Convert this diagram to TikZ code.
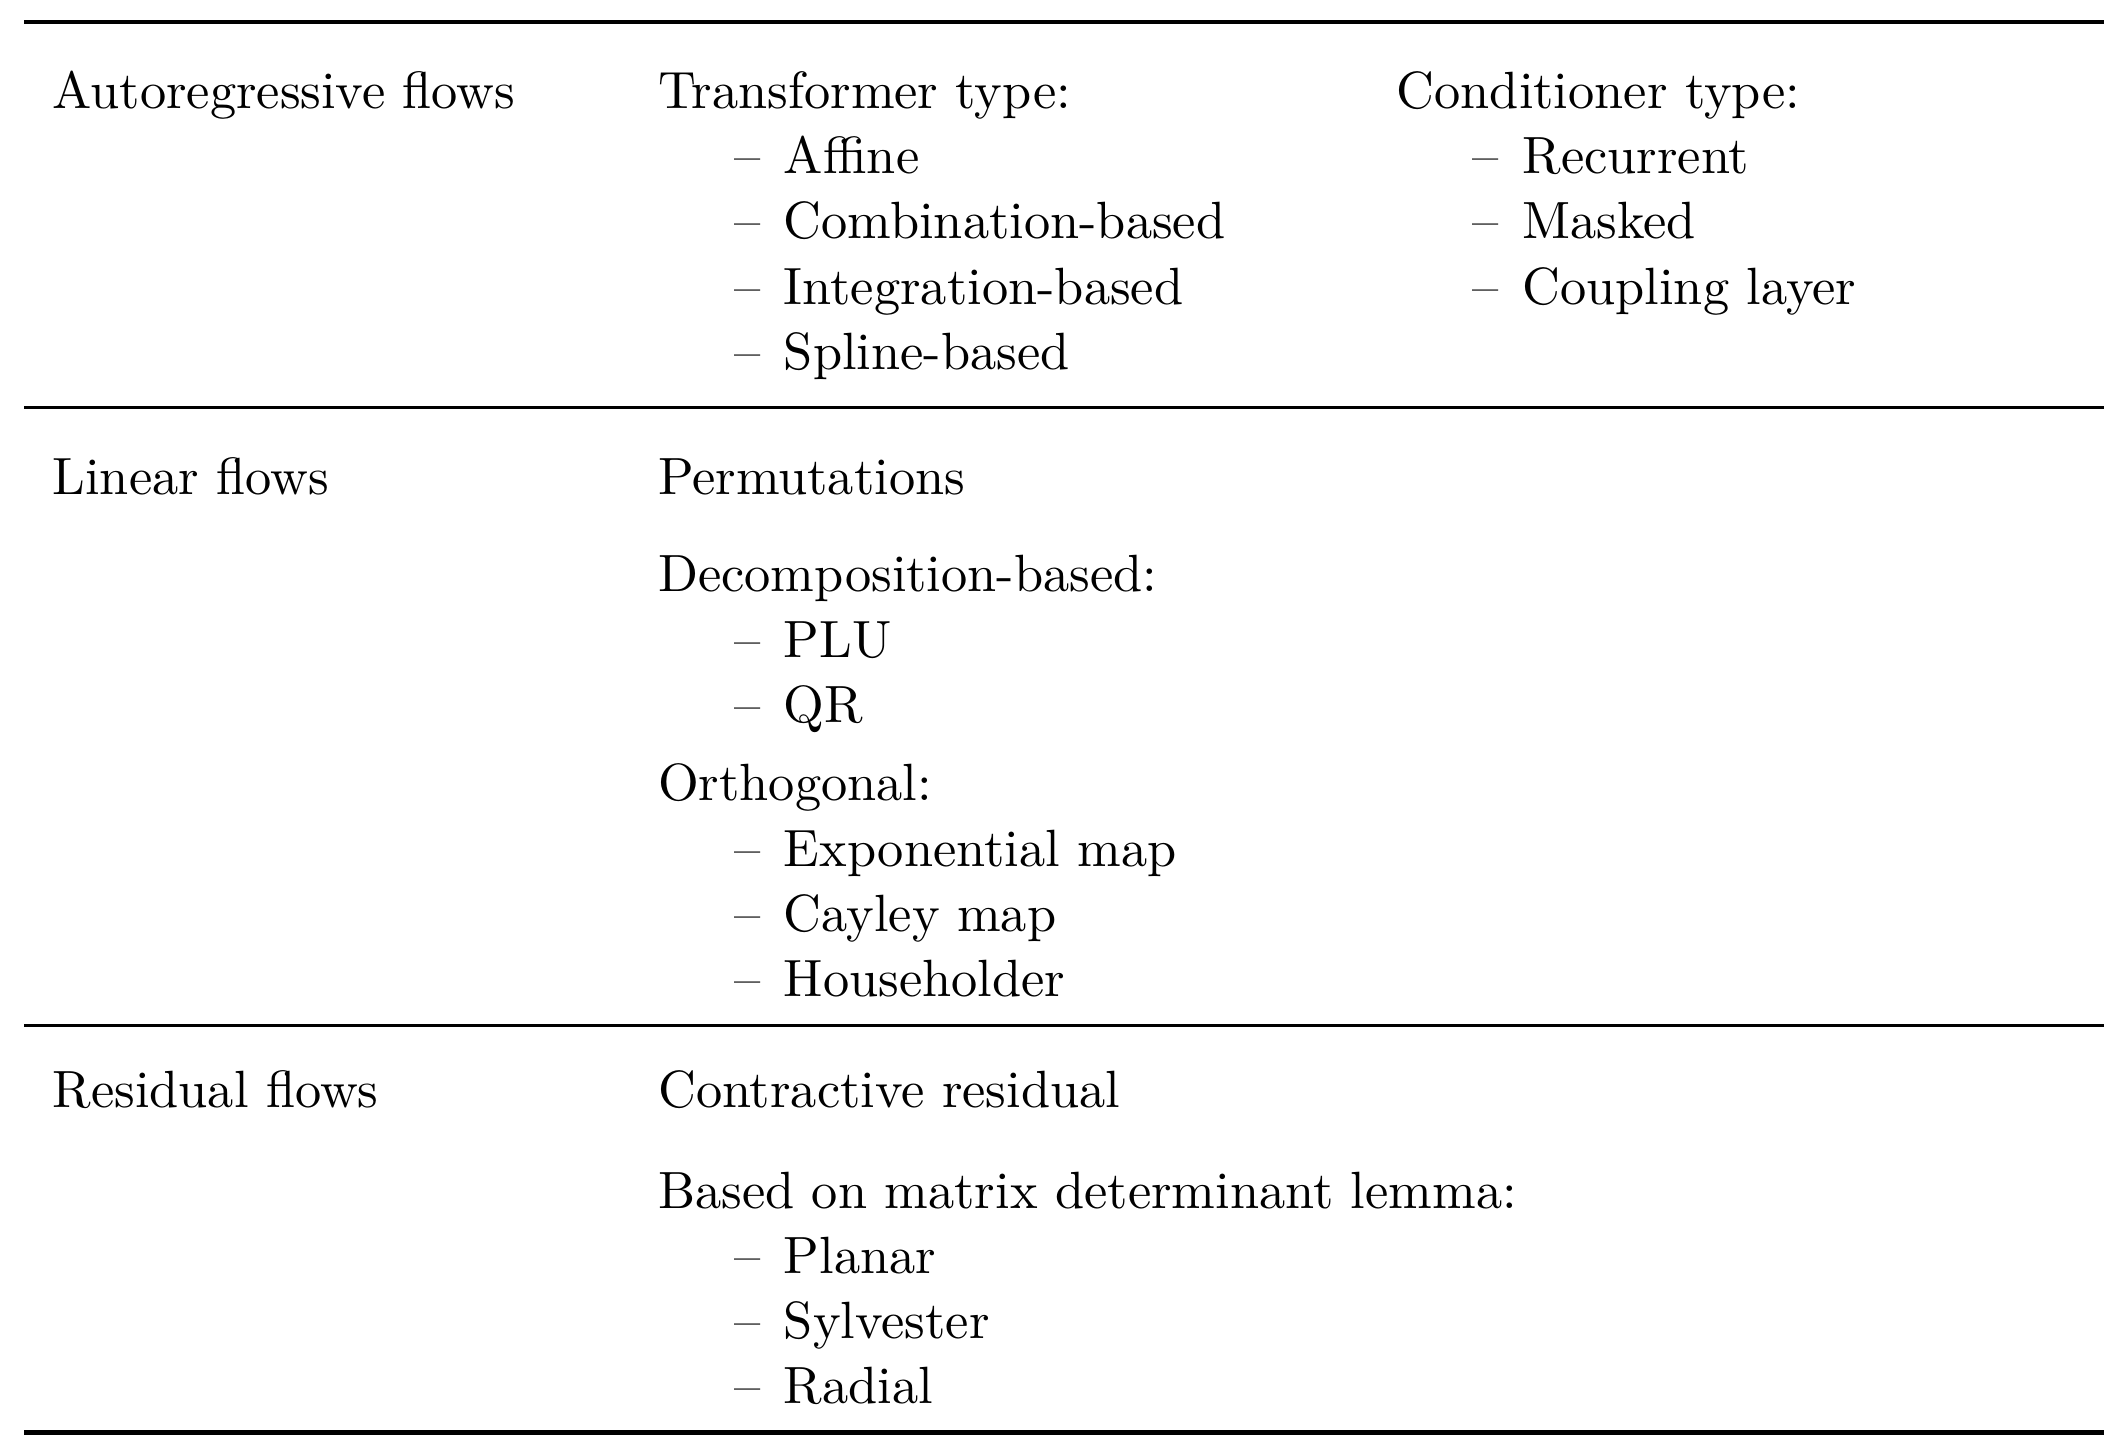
\documentclass[tikz,border=0pt]{standalone}
\usepackage{amsmath}
\usepackage{tikz}
\begin{document}
\begin{tikzpicture}[x=1pt,y=1pt,
    txt/.style={anchor=base west,inner sep=0pt,font=\fontsize{9.65}{12}\selectfont},
    thickrule/.style={line width=0.8pt},
    thinrule/.style={line width=0.5pt}]
            \useasboundingbox (0,0) rectangle (390.4,-265.6);

            % Rules
            \draw[thickrule] (4.5,-4) -- (387.5,-4);
            \draw[thinrule] (4.5,-75) -- (387.5,-75);
            \draw[thinrule] (4.5,-188.8) -- (387.5,-188.8);
            \draw[thickrule] (4.5,-263.8) -- (387.5,-263.8);

            % Autoregressive flows
            \node[txt] (ar) at (9.5,-20) {Autoregressive flows};
            \node[txt] (trans) at (121,-20) {Transformer type:};
            \foreach \y/\t [count=\i] in {32/Affine,44/Combination-based,56/Integration-based,68/Spline-based}
                \node[txt] (trans\i) at (135,-\y) {--\hspace{0.45em}\t};
            \node[txt] (cond) at (257,-20) {Conditioner type:};
            \foreach \y/\t [count=\i] in {32/Recurrent,44/Masked,56/Coupling layer}
                \node[txt] (cond\i) at (271,-\y) {--\hspace{0.45em}\t};

            % Linear flows
            \node[txt] (lin) at (9.5,-91) {Linear flows};
            \node[txt] (perm) at (121,-91) {Permutations};
            \node[txt] (decomp) at (121,-109) {Decomposition-based:};
            \foreach \y/\t [count=\i] in {121/PLU,133/QR}
                \node[txt] (decomp\i) at (135,-\y) {--\hspace{0.45em}\t};
            \node[txt] (orth) at (121,-147.5) {Orthogonal:};
            \foreach \y/\t [count=\i] in {159.5/Exponential map,171.5/Cayley map,183.5/Householder}
                \node[txt] (orth\i) at (135,-\y) {--\hspace{0.45em}\t};

            % Residual flows
            \node[txt] (res) at (9.5,-204) {Residual flows};
            \node[txt] (contr) at (121,-204) {Contractive residual};
            \node[txt] (mdl) at (121,-222.5) {Based on matrix determinant lemma:};
            \foreach \y/\t [count=\i] in {234.5/Planar,246.5/Sylvester,258.5/Radial}
                \node[txt] (mdl\i) at (135,-\y) {--\hspace{0.45em}\t};
        \end{tikzpicture}
\end{document}
